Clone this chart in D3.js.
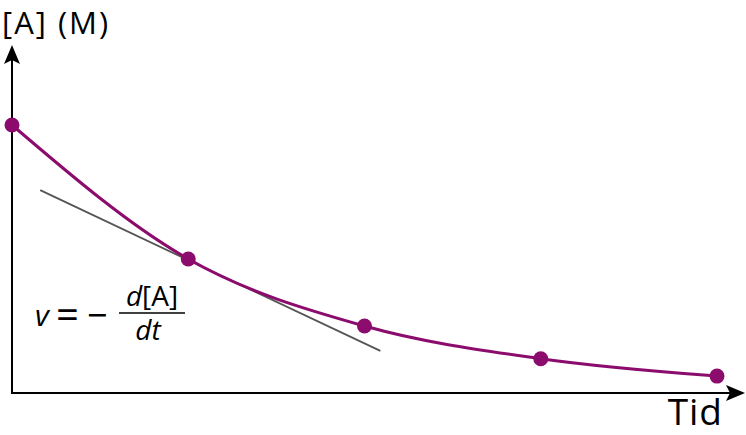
<!DOCTYPE html>
<html><head><meta charset="utf-8">
<script src="https://cdn.jsdelivr.net/npm/d3@7"></script>
<style>body{margin:0;background:#fff}svg{display:block}</style>
</head><body>
<script>
const times = [0, 1, 2, 3, 4];
const conc = [1.0, 0.5, 0.25, 0.128, 0.063];
const tangentT = [0.16, 2.09];
const tangentC = [0.757, 0.157];
const yLabel = "[A] (M)";
const xLabel = "Tid";

const W = 746, H = 435;
const svg = d3.select("body").append("svg").attr("width", W).attr("height", H);
const ox = 12, oy = 393;
const x = d3.scaleLinear().domain([0, 4]).range([ox, 717]);
const y = d3.scaleLinear().domain([0, 1]).range([oy, 125]);
const purple = "#8c0c6d";
const font = "'Open Sans', sans-serif";

// axes
svg.append("line").attr("x1", ox).attr("y1", oy + 1).attr("x2", ox).attr("y2", 60)
  .attr("stroke", "#000").attr("stroke-width", 2);
svg.append("path").attr("d", `M${ox},45 L${ox-8},64 L${ox},60 L${ox+8},64 Z`).attr("fill", "#000");
svg.append("line").attr("x1", ox - 1).attr("y1", oy).attr("x2", 732).attr("y2", oy)
  .attr("stroke", "#000").attr("stroke-width", 2);
svg.append("path").attr("d", `M745,${oy} L726,${oy-8} L730,${oy} L726,${oy+8} Z`).attr("fill", "#000");

// tangent
svg.append("line")
  .attr("x1", x(tangentT[0])).attr("y1", y(tangentC[0]))
  .attr("x2", x(tangentT[1])).attr("y2", y(tangentC[1]))
  .attr("stroke", "#555").attr("stroke-width", 1.8);

// curve
const pts = times.map((t, i) => [t, conc[i]]);
svg.append("path").datum(pts)
  .attr("d", d3.line().x(d => x(d[0])).y(d => y(d[1])).curve(d3.curveMonotoneX))
  .attr("fill", "none").attr("stroke", purple).attr("stroke-width", 3);
svg.selectAll("circle.pt").data(pts).join("circle")
  .attr("cx", d => x(d[0])).attr("cy", d => y(d[1])).attr("r", 7.5).attr("fill", purple);

// labels
svg.append("text").attr("x", 2).attr("y", 34).attr("font-family", font).attr("font-size", 31)
  .attr("letter-spacing", 2).text(yLabel);
svg.append("text").attr("x", 723).attr("y", 425).attr("text-anchor", "end")
  .attr("font-family", font).attr("font-size", 37).attr("letter-spacing", 1).text(xLabel);

// formula
const f = svg.append("g").attr("font-family", font).attr("font-size", 28);
f.append("text").attr("x", 35).attr("y", 326).attr("font-style", "italic").attr("font-size", 30).text("v");
f.append("text").attr("x", 56).attr("y", 329).attr("font-size", 40).text("=");
f.append("text").attr("x", 87).attr("y", 328).attr("font-size", 36).text("−");
const num = f.append("text").attr("x", 152).attr("y", 306).attr("text-anchor", "middle");
num.append("tspan").attr("font-style", "italic").text("d");
num.append("tspan").text("[A]");
f.append("line").attr("x1", 119).attr("x2", 185).attr("y1", 313).attr("y2", 313)
  .attr("stroke", "#000").attr("stroke-width", 1.5);
f.append("text").attr("x", 148).attr("y", 340).attr("text-anchor", "middle")
  .attr("font-style", "italic").text("dt");
</script>
</body></html>
